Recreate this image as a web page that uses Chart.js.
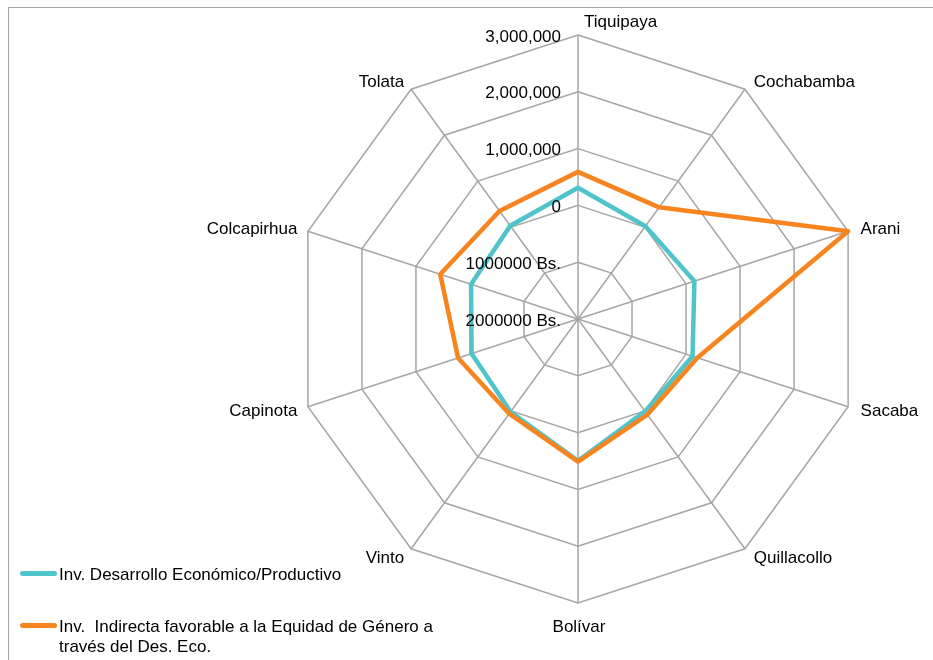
<!DOCTYPE html>
<html>
<head>
<meta charset="utf-8">
<script src="https://cdn.jsdelivr.net/npm/chart.js@4.4.1/dist/chart.umd.min.js"></script>
<style>
    html, body { margin: 0; padding: 0; background: #fff; overflow: hidden; }
    #wrap { position: relative; width: 933px; height: 660px; overflow: hidden; }
    #frame { position: absolute; left: 8px; top: 7px; width: 1000px; height: 1000px; border: 1.5px solid #a6a6a6; box-sizing: border-box; }
    #chartRadar { position: absolute; left: 0; top: 0; }
    .lg-item { position: absolute; left: 20px; font-family: "Liberation Sans", Arial, Helvetica, sans-serif; font-size: 17px; line-height: 20px; color: #000; }
    .lg-line { position: absolute; left: 0; width: 37px; height: 4.5px; border-radius: 3px; }
    .lg-text { margin-left: 39px; width: 392px; white-space: pre-wrap; }
</style>
</head>
<body>
<div id="wrap">
    <div id="frame"></div>
    <canvas id="chartRadar" width="933" height="660"></canvas>
    <div id="legendBox"></div>
</div>
<script>
    // municipios
    var categories = ['Tiquipaya', 'Cochabamba', 'Arani', 'Sacaba', 'Quillacollo', 'Bolívar', 'Vinto', 'Capinota', 'Colcapirhua', 'Tolata'];

    // inversiones (Bs.)
    var invDesarrollo = [310000, 20000, 155000, 120000, 10000, 495000, 20000, -30000, -20000, 30000];
    var invEquidad = [590000, 430000, 3000000, 210000, 80000, 510000, 60000, 220000, 550000, 350000];

    var seriesNames = ['Inv. Desarrollo Económico/Productivo', 'Inv.  Indirecta favorable a la Equidad de Género a través del Des. Eco.'];
    var seriesColors = ['#4fc4ca', '#f7851f'];

    // eje radial
    var axisMin = -2000000;
    var axisMax = 3000000;
    var axisStep = 1000000;

    var fontFamily = '"Liberation Sans", Arial, Helvetica, sans-serif';

    function fmtTick(v) {
        if (v < 0) return Math.abs(v) + ' Bs.';
        return v.toLocaleString('en-US');
    }

    // dibuja etiquetas de ticks y de categorias a mano (posicion tipo Excel)
    const radarLabels = {
        id: 'radarLabels',
        afterDraw: function (chart) {
            const ctx = chart.ctx;
            const sc = chart.scales.r;
            ctx.save();
            ctx.font = '17px ' + fontFamily;
            ctx.fillStyle = '#000';
            ctx.textBaseline = 'middle';

            // ticks a la izquierda del eje vertical
            ctx.textAlign = 'right';
            for (t of sc.ticks) {
                let d = sc.getDistanceFromCenterForValue(t.value);
                ctx.fillText(fmtTick(t.value), sc.xCenter - 17, sc.yCenter - d + 2);
            }

            // nombres de municipios
            for (let i = 0; i < chart.data.labels.length; i++) {
                let p = sc.getPointPosition(i, sc.drawingArea + 10);
                let dx = p.x - sc.xCenter;
                if (Math.abs(dx) < 1 && p.y < sc.yCenter) {
                    ctx.textAlign = 'left';
                    ctx.fillText(chart.data.labels[i], p.x + 6, p.y - 3);
                } else if (Math.abs(dx) < 1) {
                    ctx.textAlign = 'center';
                    ctx.fillText(chart.data.labels[i], p.x + 1, p.y + 14);
                } else if (dx > 0) {
                    ctx.textAlign = 'left';
                    ctx.fillText(chart.data.labels[i], p.x + 3, p.y + 1);
                } else {
                    ctx.textAlign = 'right';
                    ctx.fillText(chart.data.labels[i], p.x - 1, p.y + 1);
                }
            }
            ctx.restore();
        }
    };

    var ctx = document.getElementById('chartRadar').getContext('2d');
    var radarChart = new Chart(ctx, {
        type: 'radar',
        data: {
            labels: categories,
            datasets: [
                {
                    label: seriesNames[0],
                    data: invDesarrollo,
                    borderColor: seriesColors[0],
                    backgroundColor: seriesColors[0],
                    borderWidth: 4.5,
                    borderJoinStyle: 'round',
                    pointRadius: 0,
                    fill: false,
                    order: 1
                },
                {
                    label: seriesNames[1],
                    data: invEquidad,
                    borderColor: seriesColors[1],
                    backgroundColor: seriesColors[1],
                    borderWidth: 4.5,
                    borderJoinStyle: 'round',
                    pointRadius: 0,
                    fill: false,
                    order: 0
                }
            ]
        },
        plugins: [radarLabels],
        options: {
            responsive: false,
            animation: false,
            layout: {
                padding: { left: 294, right: 71, top: 35, bottom: 57 }
            },
            plugins: {
                legend: { display: false },
                tooltip: { enabled: false }
            },
            scales: {
                r: {
                    min: axisMin,
                    max: axisMax,
                    ticks: {
                        stepSize: axisStep,
                        display: false
                    },
                    pointLabels: { display: false },
                    grid: { color: '#a6a6a6', lineWidth: 1.5 },
                    angleLines: { color: '#a6a6a6', lineWidth: 1.5 }
                }
            }
        }
    });

    // leyenda html abajo a la izquierda
    var legendBox = document.getElementById('legendBox');
    var legendTops = [565, 617];
    radarChart.data.datasets.forEach(function (ds, i) {
        let item = document.createElement('div');
        item.className = 'lg-item';
        item.style.top = legendTops[i] + 'px';
        let line = document.createElement('div');
        line.className = 'lg-line';
        line.style.background = ds.borderColor;
        line.style.top = '6px';
        let txt = document.createElement('div');
        txt.className = 'lg-text';
        txt.textContent = ds.label;
        item.appendChild(line);
        item.appendChild(txt);
        legendBox.appendChild(item);
    });
</script>
</body>
</html>
